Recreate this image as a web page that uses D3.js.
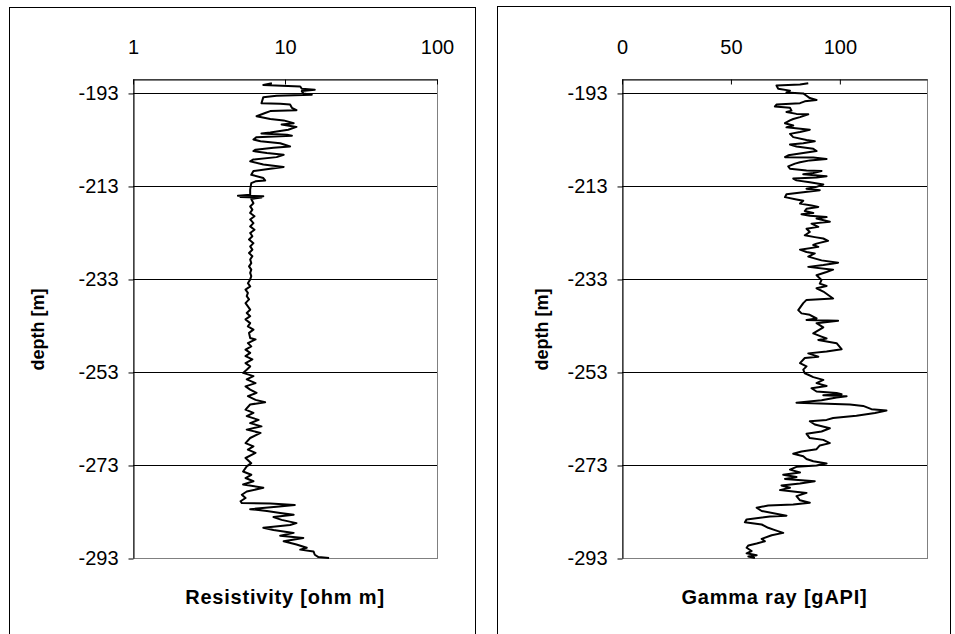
<!DOCTYPE html>
<html>
<head>
<meta charset="utf-8">
<script src="https://cdn.jsdelivr.net/npm/d3@7"></script>
<style>
  body { margin: 0; background: #fff; }
  svg { display: block; }
  text { font-family: "Liberation Sans", Arial, sans-serif; fill: #000; }
</style>
</head>
<body>
<svg id="chart" width="955" height="634"></svg>
<script>
// Well log: resistivity (ohm m) against depth (m)
const resDepth = [
  -190.9, -191.3, -191.6, -192.1, -192.3, -192.6, -193.1, -193.4, -193.6, -193.9,
  -195.2, -195.3, -195.5, -196.2, -196.7, -196.9, -197.3, -198.0, -198.6, -198.9,
  -199.5, -199.8, -200.3, -200.9, -201.5, -201.7, -202.0, -202.2, -202.5, -203.0,
  -203.4, -203.8, -204.5, -204.8, -205.2, -205.5, -205.9, -206.3, -206.8, -207.3,
  -207.7, -208.4, -208.9, -209.3, -209.8, -210.6, -211.3, -211.8, -212.0, -212.4,
  -213.8, -214.9, -215.1, -215.2, -215.4, -215.5, -215.8, -216.7, -217.4, -218.1,
  -218.8, -219.5, -220.2, -221.0, -221.7, -222.4, -223.1, -223.8, -224.5, -225.3,
  -226.0, -226.7, -227.4, -228.1, -228.8, -229.6, -230.3, -231.0, -231.7, -232.4,
  -233.1, -233.9, -234.6, -235.3, -236.0, -236.7, -237.4, -238.2, -238.9, -239.6,
  -240.3, -241.0, -241.7, -242.5, -243.2, -243.9, -244.6, -245.7, -246.0, -246.8,
  -247.5, -248.2, -248.9, -249.6, -250.3, -251.1, -251.8, -252.5, -253.2, -253.9,
  -254.6, -255.4, -256.1, -256.8, -257.5, -258.2, -259.0, -259.5, -260.0, -261.1,
  -261.8, -262.5, -263.3, -264.0, -264.7, -265.4, -266.1, -267.2, -268.3, -269.0,
  -269.7, -270.4, -271.5, -272.6, -273.3, -274.4, -275.1, -275.8, -276.5, -277.2,
  -277.9, -278.7, -279.4, -280.1, -280.8, -281.2, -281.3, -281.6, -282.0, -282.5,
  -282.9, -283.3, -283.7, -284.2, -284.8, -285.5, -285.9, -286.5, -287.0, -287.6,
  -288.2, -288.7, -289.4, -290.1, -290.8, -291.2, -291.6, -292.3, -292.8, -293.0
];
const resValue = [
  8.2, 7.2, 12.6, 12.9, 15.7, 12.9, 13.2, 15.0, 8.8, 7.2,
  7.0, 9.3, 10.8, 11.1, 11.9, 8.0, 7.4, 6.5, 8.0, 9.8,
  11.4, 9.5, 11.9, 10.5, 8.0, 7.0, 10.3, 11.1, 6.5, 6.2,
  6.9, 9.3, 10.8, 8.4, 6.4, 6.2, 7.6, 9.8, 8.8, 6.2,
  5.9, 7.2, 9.8, 8.0, 6.2, 6.0, 7.2, 7.4, 6.4, 6.0,
  5.9, 5.9, 4.9, 7.2, 5.1, 7.0, 6.0, 6.2, 5.9, 6.1,
  5.9, 6.3, 5.9, 6.2, 5.9, 6.3, 5.9, 6.1, 5.8, 6.2,
  5.9, 6.1, 5.8, 6.1, 5.9, 6.0, 5.8, 6.0, 5.9, 6.0,
  5.9, 5.7, 5.9, 5.5, 5.7, 5.6, 5.8, 5.5, 5.7, 5.9,
  5.6, 5.9, 5.5, 5.9, 5.7, 6.2, 5.8, 5.9, 6.4, 5.7,
  6.0, 5.5, 5.9, 5.5, 6.1, 5.5, 5.9, 5.6, 5.3, 6.2,
  5.6, 6.4, 5.5, 5.9, 6.5, 5.7, 6.4, 7.4, 5.9, 5.5,
  6.2, 5.6, 6.7, 5.9, 7.0, 5.6, 6.9, 5.9, 5.5, 6.2,
  5.7, 6.4, 5.5, 6.0, 5.6, 5.3, 6.0, 5.5, 6.2, 5.3,
  7.2, 5.6, 5.2, 5.5, 5.1, 5.2, 8.0, 11.6, 8.8, 5.9,
  7.6, 9.3, 11.4, 8.4, 9.5, 11.9, 10.8, 7.2, 8.4, 11.4,
  9.3, 13.2, 9.8, 11.9, 13.9, 12.6, 15.4, 15.7, 16.6, 19.5
];

// Well log: gamma ray (gAPI) against depth (m)
const grDepth = [
  -190.9, -191.2, -191.4, -192.1, -192.5, -192.9, -193.1, -193.6, -194.1, -194.5,
  -194.8, -195.2, -195.5, -195.9, -196.2, -196.8, -197.1, -197.5, -197.6, -198.2,
  -198.6, -198.9, -199.5, -200.0, -200.4, -200.9, -201.4, -201.8, -202.5, -203.1,
  -203.4, -203.8, -204.1, -204.5, -205.0, -205.5, -205.9, -206.4, -206.8, -206.9,
  -207.2, -207.5, -207.9, -208.2, -208.8, -209.3, -209.7, -209.8, -210.2, -210.5,
  -210.9, -211.2, -211.4, -211.8, -212.2, -212.7, -213.2, -213.6, -213.9, -214.8,
  -215.4, -215.9, -216.2, -216.8, -217.2, -217.5, -217.9, -218.4, -218.8, -219.1,
  -219.4, -219.7, -220.0, -220.7, -221.1, -221.8, -222.2, -222.9, -223.6, -224.0,
  -224.3, -224.8, -225.4, -225.7, -226.1, -226.7, -227.2, -227.5, -228.2, -229.0,
  -229.5, -230.0, -230.4, -231.0, -231.5, -232.2, -233.2, -234.0, -234.5, -235.0,
  -235.7, -237.2, -237.5, -238.2, -239.7, -240.4, -240.7, -241.5, -241.8, -242.0,
  -242.5, -243.4, -244.7, -245.4, -245.8, -246.1, -246.8, -248.1, -248.6, -249.0,
  -249.7, -250.0, -251.1, -251.8, -252.5, -253.3, -253.6, -254.1, -254.7, -255.4,
  -256.0, -256.5, -257.2, -257.5, -257.8, -258.0, -258.2, -258.5, -259.1, -259.6,
  -259.8, -260.0, -260.3, -261.0, -261.3, -261.8, -262.4, -262.9, -263.3, -263.6,
  -264.3, -265.1, -265.8, -266.3, -267.2, -267.6, -268.3, -268.8, -269.6, -270.1,
  -270.6, -271.1, -271.7, -272.2, -272.7, -273.1, -273.4, -274.0, -274.6, -275.1,
  -275.6, -276.0, -276.5, -277.0, -277.4, -277.9, -278.4, -279.0, -279.7, -280.6,
  -281.1, -281.5, -281.7, -282.2, -282.9, -283.9, -284.1, -284.7, -285.3, -285.8,
  -286.5, -287.0, -287.6, -288.1, -288.9, -289.4, -289.9, -290.3, -290.8, -291.5,
  -292.0, -292.4, -292.7, -293.0
];
const grValue = [
  85.5, 81.7, 70.9, 71.7, 77.1, 75.5, 83.2, 84.7, 86.2, 89.3,
  83.9, 81.7, 70.9, 70.2, 77.1, 77.8, 75.5, 80.1, 85.5, 81.7,
  78.6, 77.1, 74.8, 78.6, 75.5, 86.2, 81.7, 77.1, 78.6, 84.7,
  88.5, 83.2, 77.1, 80.1, 87.8, 89.3, 83.2, 76.3, 74.8, 87.8,
  93.9, 86.2, 81.7, 79.4, 76.3, 77.1, 84.7, 91.6, 87.8, 83.2,
  93.9, 89.3, 78.6, 80.1, 86.2, 92.4, 89.3, 84.7, 90.8, 75.5,
  74.8, 80.1, 83.2, 81.7, 87.0, 90.1, 84.7, 83.9, 87.8, 82.4,
  86.2, 93.9, 89.3, 95.4, 87.0, 90.1, 84.7, 86.2, 83.9, 88.5,
  92.4, 94.6, 89.3, 87.8, 90.1, 81.7, 84.7, 88.5, 85.5, 91.6,
  99.2, 92.4, 85.5, 96.9, 93.9, 89.3, 91.6, 90.8, 93.9, 89.3,
  92.4, 96.9, 84.7, 83.2, 80.9, 82.4, 86.2, 89.3, 84.7, 99.2,
  89.3, 92.4, 87.8, 91.6, 93.9, 90.1, 98.5, 100.8, 93.9, 85.5,
  90.1, 83.9, 81.7, 84.7, 83.2, 83.9, 85.5, 87.8, 92.4, 89.3,
  93.9, 87.0, 89.3, 98.5, 100.8, 92.4, 103.1, 98.5, 91.6, 80.1,
  90.8, 104.6, 110.7, 114.5, 121.4, 116.1, 107.6, 96.9, 93.9, 86.2,
  88.5, 95.4, 91.6, 84.7, 86.2, 92.4, 95.4, 90.8, 89.3, 82.4,
  78.6, 83.2, 84.7, 87.8, 93.9, 89.3, 80.1, 77.1, 81.7, 74.0,
  80.1, 74.8, 88.5, 81.7, 73.2, 77.1, 72.5, 84.7, 80.1, 81.7,
  86.2, 78.6, 67.1, 61.8, 64.1, 75.5, 67.9, 57.2, 56.4, 64.1,
  67.1, 70.2, 74.0, 68.7, 64.1, 65.6, 61.8, 58.0, 57.2, 59.5,
  57.2, 61.8, 58.0, 61.0
];

// Axis ticks and titles
const depthTicks = [-193, -213, -233, -253, -273, -293];
const depthDomain = [-293, -190];
const resTicks = [1, 10, 100];
const resDomain = [1, 100];
const grTicks = [0, 50, 100];
const grDomain = [0, 140];
const resTitle = "Resistivity [ohm m]";
const grTitle = "Gamma ray [gAPI]";
const depthTitle = "depth [m]";

const svg = d3.select("#chart");

const panels = [
  {
    box: { x: 9.5, y: 7.5, w: 466, h: 640 },
    plot: { x: 133, y: 79, w: 304, h: 479 },
    yTitleX: 44,
    x: d3.scaleLog().domain(resDomain),
    ticks: resTicks,
    depth: resDepth, value: resValue,
    title: resTitle
  },
  {
    box: { x: 497.5, y: 6.5, w: 453, h: 640 },
    plot: { x: 622, y: 79, w: 305, h: 479 },
    yTitleX: 548,
    x: d3.scaleLinear().domain(grDomain),
    ticks: grTicks,
    depth: grDepth, value: grValue,
    title: grTitle
  }
];

panels.forEach(p => {
  svg.append("rect")
    .attr("x", p.box.x).attr("y", p.box.y)
    .attr("width", p.box.w).attr("height", p.box.h)
    .attr("fill", "#fff").attr("stroke", "#000").attr("stroke-width", 1);

  const g = svg.append("g").attr("transform", `translate(${p.plot.x},${p.plot.y})`);
  const x = p.x.range([0, p.plot.w]);
  const y = d3.scaleLinear().domain(depthDomain).range([p.plot.h, 0]);

  // plot-area frame (right and bottom in grey)
  g.append("rect")
    .attr("x", 0.5).attr("y", 0.5)
    .attr("width", p.plot.w).attr("height", p.plot.h)
    .attr("fill", "none").attr("stroke", "#808080").attr("stroke-width", 1);

  // horizontal gridlines at each depth tick
  g.append("g").selectAll("line")
    .data(depthTicks)
    .join("line")
    .attr("x1", 0).attr("x2", p.plot.w)
    .attr("y1", d => Math.round(y(d)) + 0.5)
    .attr("y2", d => Math.round(y(d)) + 0.5)
    .attr("stroke", d => d === depthDomain[0] ? "#808080" : "#000")
    .attr("stroke-width", 1);

  // depth axis
  const ya = g.append("g")
    .attr("transform", "translate(0.5,0)")
    .call(d3.axisLeft(y).tickValues(depthTicks).tickSizeInner(5).tickSizeOuter(0)
      .tickPadding(10).tickFormat(d => String(d)));
  ya.selectAll("text").style("font-size", "20px").attr("font-family", null);
  ya.selectAll("line").attr("stroke", "#000").attr("transform", "translate(0,0.5)");
  ya.select(".domain").attr("stroke", "#000");

  // value axis along the top
  const xa = g.append("g")
    .attr("transform", "translate(0,0.5)")
    .call(d3.axisTop(x).tickValues(p.ticks).tickSizeInner(-5).tickSizeOuter(0)
      .tickPadding(26).tickFormat(d => String(d)));
  xa.selectAll("text").style("font-size", "20px").attr("font-family", null);
  xa.selectAll("line").attr("stroke", "#000");
  xa.select(".domain").attr("stroke", "#000");

  // log curve
  const pts = p.depth.map((d, i) => [p.value[i], d]);
  g.append("path")
    .datum(pts)
    .attr("fill", "none")
    .attr("stroke", "#000")
    .attr("stroke-width", 2)
    .attr("stroke-linejoin", "round")
    .attr("d", d3.line().x(d => x(d[0])).y(d => y(d[1])));

  // axis titles
  g.append("text")
    .attr("x", p.plot.w / 2).attr("y", p.plot.h + 46)
    .attr("text-anchor", "middle")
    .style("font-size", "20px").style("font-weight", "bold")
    .style("letter-spacing", "0.8px")
    .text(p.title);

  svg.append("text")
    .attr("transform", `translate(${p.yTitleX},${p.plot.y + p.plot.h / 2 + 11}) rotate(-90)`)
    .attr("text-anchor", "middle")
    .style("font-size", "18px").style("font-weight", "bold")
    .text(depthTitle);
});
</script>
</body>
</html>
